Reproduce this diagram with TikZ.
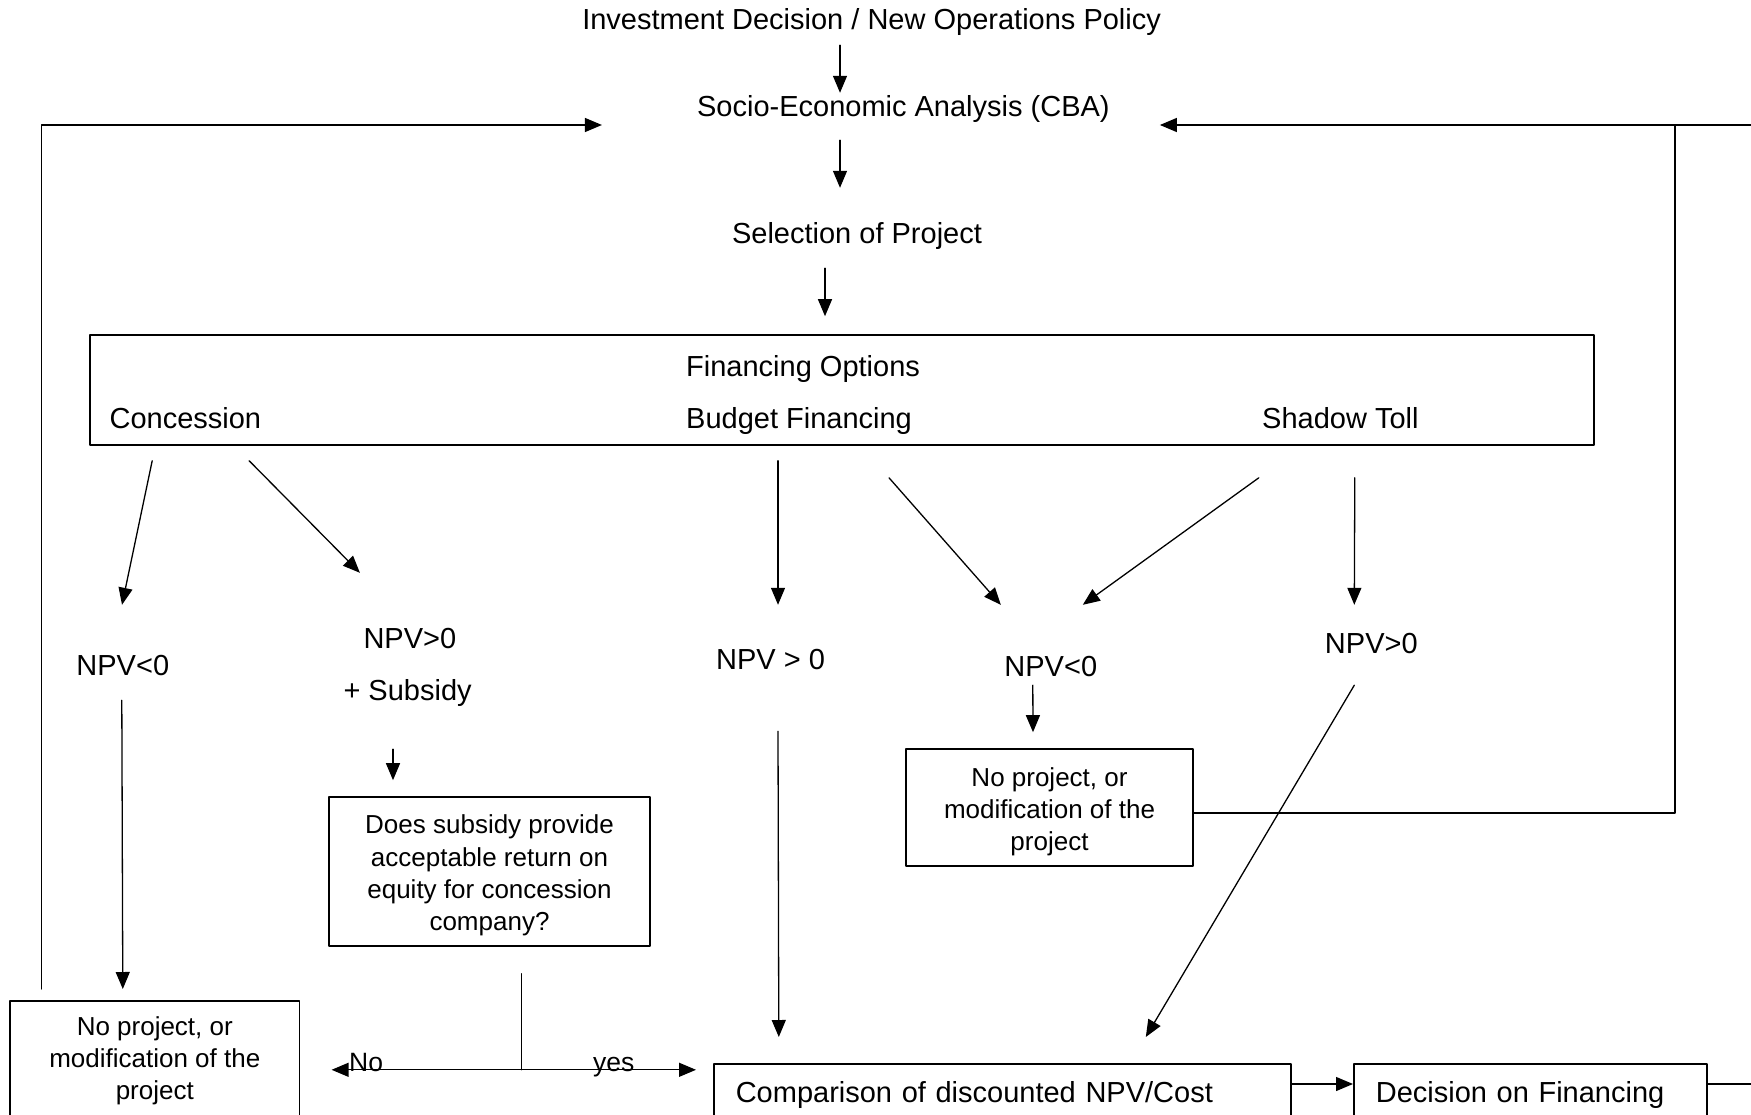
\documentclass[tikz,border=0pt]{standalone}
\usepackage{fontspec}
\setmainfont{Liberation Sans}
\usetikzlibrary{arrows.meta,calc,positioning}
\newcommand\topgap{\rule{0pt}{27pt}}

\begin{document}
\begin{tikzpicture}[x=1pt,y=-1pt,>=Latex,line cap=round,line join=round]
\useasboundingbox (0,0) rectangle (1751,1115);
\path[fill=white] (0,0) rectangle (1751,1115);
\clip (0,0) rectangle (1751,1115);
\tikzset{txt/.style={inner sep=0pt,text height=21pt,text depth=6pt,font=\fontsize{29}{35}\selectfont},tag/.style={inner sep=0pt,anchor=base west,font=\fontsize{26.5}{32}\selectfont},box/.style={draw=black,line width=1.6pt,inner sep=0pt,align=center,font=\fontsize{26}{32.3}\selectfont},wide/.style={draw=black,line width=1.6pt,anchor=north west,inner xsep=22pt,inner ysep=0pt,minimum height=62pt,text height=21pt,text depth=6pt,align=left,font=\fontsize{29}{35}\selectfont},link/.style={draw=black,line width=1.3pt},flow/.style={link,-{Triangle[length=17pt,width=14pt]}}}
\node[txt,anchor=base] (title) at (871.6,30) {Investment Decision / New Operations Policy};
\node[txt,anchor=base] (socio) at (903.4,117) {Socio-Economic Analysis (CBA)};
\node[txt,anchor=base] (select) at (857,244) {Selection of Project};
\node[draw=black,line width=1.6pt,inner sep=0pt,minimum width=1504pt,minimum height=110pt] (finbox) at (842,390) {};
\node[txt,anchor=base west] (finopt) at (686,376) {Financing Options};
\node[txt,anchor=base west] (conc) at (109.4,428) {Concession};
\node[txt,anchor=base west] (budget) at (686,428) {Budget Financing};
\node[txt,anchor=base west] (shadow) at (1262,428) {Shadow Toll};
\node[txt,anchor=base] (npvA) at (122.8,675) {NPV<0};
\node[txt,anchor=base] (npvB) at (409.9,648) {NPV>0};
\node[txt,anchor=base] (subs) at (407.6,700) {+ Subsidy};
\node[txt,anchor=base] (npvC) at (770.5,669) {NPV > 0};
\node[txt,anchor=base] (npvD) at (1050.8,676) {NPV<0};
\node[txt,anchor=base] (npvE) at (1371.3,653) {NPV>0};
\node[box,minimum width=321pt,minimum height=149pt] (qbox) at (489.5,871.5) {\topgap Does subsidy provide\\acceptable return on\\equity for concession\\company?};
\node[box,minimum width=287pt,minimum height=117pt] (noprojR) at (1049.5,807.5) {\topgap No project, or\\modification of the\\project};
\node[box,draw=none,anchor=north west,minimum width=288pt,minimum height=110pt] (noprojL) at (10,1001) {\topgap No project, or\\modification of the\\project};
\draw[link,line width=1.6pt] (noprojL.north west) rectangle ($(noprojL.south east)+(0,40)$);
\node[wide,text width=533pt] (compare) at (713,1063) {Comparison of discounted NPV/Cost};
\node[wide,text width=309pt] (decide) at (1353,1063) {Decision on Financing};
\node[tag] (nolbl) at (349,1071) {No};
\node[tag] (yeslbl) at (593,1071) {yes};
\coordinate (fork) at ($(qbox.south)+(32,123)$);
\coordinate (loopR) at (1675,125);
\coordinate (offS) at (1751,125);
\coordinate (offD) at (1751,1084);
\draw[flow] ($(title.south)+(-31.6,9)$) -- ($(socio.north)+(-63.4,-3)$);
\draw[flow] ($(socio.south)+(-63.4,17)$) -- ($(select.north)+(-17,-35)$);
\draw[flow] ($(select.south)+(-32,18)$) -- ($(finbox.north)+(-17,-18)$);
\draw[flow] ($(finbox.south west)+(63,15)$) -- ($(npvA.north)+(-0.8,-49)$);
\draw[flow] ($(finbox.south west)+(160,15)$) -- ($(npvB.north)+(-50,-54)$);
\draw[flow] ($(finbox.south)+(-64,15)$) -- ($(npvC.north)+(7.5,-43)$);
\draw[flow] ($(finbox.south)+(47,32)$) -- ($(npvD.north)+(-50,-50)$);
\draw[flow] ($(finbox.south east)+(-336,32)$) -- ($(npvD.north)+(32,-50)$);
\draw[flow] ($(finbox.south east)+(-240,32)$) -- ($(npvE.north)+(-17,-27)$);
\draw[flow] ($(npvA.south)+(-1,19)$) -- ($(noprojL.north)+(-32,-12)$);
\draw[flow] ($(subs.south)+(-14.6,43)$) -- ($(qbox.north)+(-96.5,-16)$);
\draw[flow] ($(npvD.south)+(-18,3)$) -- ($(noprojR.north)+(-16.5,-16)$);
\draw[flow] ($(npvC.south)+(7.5,56)$) -- ($(compare.north)+(-223.5,-26)$);
\draw[flow] ($(npvE.south)+(-17,26)$) -- ($(compare.north)+(143.5,-26)$);
\draw[link] ($(qbox.south)+(32,27)$) -- (fork);
\draw[flow,shorten >=32pt] (fork) -- (fork -| noprojL.east);
\draw[flow,shorten >=17pt] (fork) -- (fork -| compare.west);
\draw[flow] ($(compare.north east)+(0,21)$) -- ($(decide.north west)+(0,21)$);
\draw[link] ($(decide.north east)+(0,21)$) -- (offD);
\draw[flow] ($(noprojL.north)+(-113,-12)$) |- ($(socio.west)+(-95,15.5)$);
\draw[flow] ($(noprojR.east)+(0,5.5)$) -| (loopR) -- ($(socio.east)+(50,15.5)$);
\draw[link] (loopR) -- (offS);
\end{tikzpicture}
\end{document}
